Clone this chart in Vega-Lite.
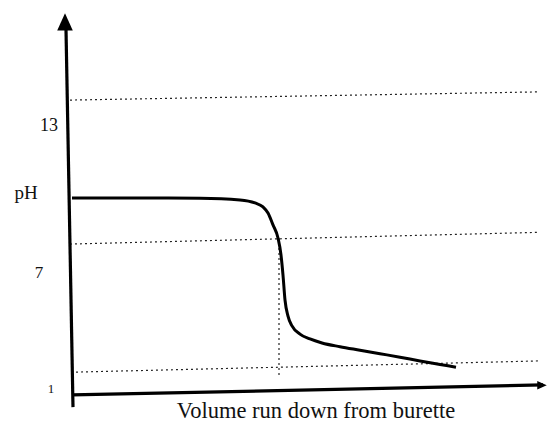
{
  "$schema": "https://vega.github.io/schema/vega-lite/v6.json",
  "width": 548,
  "height": 426,
  "autosize": {"type": "fit", "contains": "padding"},
  "padding": 0,
  "background": "white",
  "config": {"view": {"stroke": null}},
  "datasets": {
    "curve": [
      {"vol": 0.2, "pH": 10.07}, {"vol": 8.0, "pH": 10.07}, {"vol": 13.0, "pH": 10.06},
      {"vol": 17.0, "pH": 9.99}, {"vol": 18.5, "pH": 9.86}, {"vol": 19.3, "pH": 9.69},
      {"vol": 19.8, "pH": 9.43}, {"vol": 20.3, "pH": 8.92}, {"vol": 20.8, "pH": 8.36},
      {"vol": 21.1, "pH": 7.63}, {"vol": 21.3, "pH": 6.77}, {"vol": 21.5, "pH": 5.7},
      {"vol": 21.8, "pH": 5.01}, {"vol": 22.2, "pH": 4.59}, {"vol": 23.0, "pH": 4.24},
      {"vol": 24.0, "pH": 4.03}, {"vol": 25.2, "pH": 3.86}, {"vol": 27.0, "pH": 3.7},
      {"vol": 29.0, "pH": 3.55}, {"vol": 31.0, "pH": 3.4}, {"vol": 33.0, "pH": 3.25},
      {"vol": 35.0, "pH": 3.09}, {"vol": 37.0, "pH": 2.94}, {"vol": 38.6, "pH": 2.82}
    ],
    "axes": [
      {"x1": -0.4, "y1": 17.3, "x2": 0.3, "y2": 1.11},
      {"x1": 0.2, "y1": 1.63, "x2": 47.3, "y2": 2.06}
    ],
    "dotted": [
      {"x1": 0.0, "y1": 14.27, "x2": 46.7, "y2": 14.62},
      {"x1": 0.0, "y1": 8.1, "x2": 46.7, "y2": 8.6},
      {"x1": 0.6, "y1": 2.61, "x2": 47.0, "y2": 3.09},
      {"x1": 20.9, "y1": 8.36, "x2": 20.9, "y2": 2.49}
    ],
    "arrows": [
      {"vol": -0.5, "pH": 17.62, "angle": 0, "size": 300},
      {"vol": 47.2, "pH": 2.05, "angle": 90, "size": 90}
    ],
    "labels": [
      {"vol": -2.1, "pH": 12.95, "text": "13", "size": 18},
      {"vol": -4.4, "pH": 10.03, "text": "pH", "size": 19},
      {"vol": -3.1, "pH": 6.64, "text": "7", "size": 17},
      {"vol": -1.9, "pH": 1.71, "text": "1", "size": 13}
    ],
    "title": [
      {"vol": 24.6, "pH": 0.64, "text": "Volume run down from burette"}
    ]
  },
  "layer": [
    {
      "data": {"name": "dotted"},
      "mark": {"type": "rule", "color": "#222", "strokeWidth": 1.2, "strokeDash": [2, 3]},
      "encoding": {
        "x": {"field": "x1", "type": "quantitative", "scale": {"domain": [-7, 47.8], "nice": false, "zero": false}, "axis": null},
        "y": {"field": "y1", "type": "quantitative", "scale": {"domain": [0.3, 18.56], "nice": false, "zero": false}, "axis": null},
        "x2": {"field": "x2"},
        "y2": {"field": "y2"}
      }
    },
    {
      "data": {"name": "axes"},
      "mark": {"type": "rule", "color": "#000", "strokeWidth": 3.2},
      "encoding": {
        "x": {"field": "x1", "type": "quantitative"},
        "y": {"field": "y1", "type": "quantitative"},
        "x2": {"field": "x2"},
        "y2": {"field": "y2"}
      }
    },
    {
      "data": {"name": "arrows"},
      "mark": {"type": "point", "filled": true, "color": "#000", "opacity": 1, "shape": "M0,-1L0.9,1L-0.9,1Z"},
      "encoding": {
        "x": {"field": "vol", "type": "quantitative"},
        "y": {"field": "pH", "type": "quantitative"},
        "angle": {"field": "angle", "type": "quantitative", "scale": null},
        "size": {"field": "size", "type": "quantitative", "scale": null}
      }
    },
    {
      "data": {"name": "curve"},
      "mark": {"type": "line", "color": "#000", "strokeWidth": 3, "interpolate": "monotone"},
      "encoding": {
        "x": {"field": "vol", "type": "quantitative"},
        "y": {"field": "pH", "type": "quantitative"}
      }
    },
    {
      "data": {"name": "labels"},
      "mark": {"type": "text", "font": "Liberation Serif", "color": "#111", "align": "center", "baseline": "alphabetic"},
      "encoding": {
        "x": {"field": "vol", "type": "quantitative"},
        "y": {"field": "pH", "type": "quantitative"},
        "text": {"field": "text"},
        "size": {"field": "size", "type": "quantitative", "scale": null}
      }
    },
    {
      "data": {"name": "title"},
      "mark": {"type": "text", "font": "Liberation Serif", "fontSize": 22.5, "color": "#111", "align": "center", "baseline": "alphabetic"},
      "encoding": {
        "x": {"field": "vol", "type": "quantitative"},
        "y": {"field": "pH", "type": "quantitative"},
        "text": {"field": "text"}
      }
    }
  ]
}
